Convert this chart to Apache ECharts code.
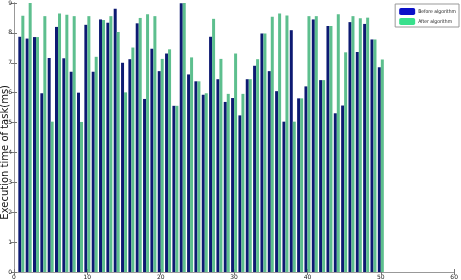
<!DOCTYPE html>
<html>
<head>
<meta charset="utf-8">
<script src="https://cdn.jsdelivr.net/npm/echarts@6/dist/echarts.min.js"></script>
<style>html,body{margin:0;padding:0;background:#fff;}#c{width:461px;height:280px;}</style>
</head>
<body>
<div id="c"></div>
<script>
var tasks = [1,2,3,4,5,6,7,8,9,10,11,12,13,14,15,16,17,18,19,20,21,22,23,24,25,26,27,28,29,30,31,32,33,34,35,36,37,38,39,40,41,42,43,44,45,46,47,48,49,50];
var before = [7.87,7.81,7.86,5.98,7.16,8.20,7.15,6.70,6.00,8.27,
              6.70,8.45,8.34,8.81,7.00,7.12,8.32,5.79,7.47,6.72,
              7.31,5.56,8.99,6.61,6.38,5.93,7.87,6.45,5.69,5.82,
              5.24,6.45,6.90,7.98,6.72,6.05,5.03,8.09,5.81,6.21,
              8.45,6.42,8.23,5.31,5.57,8.36,7.36,8.30,7.78,6.85];
var after = [8.57,9.00,7.86,8.56,5.03,8.65,8.61,8.56,5.02,8.56,
             7.20,8.43,8.56,8.03,6.01,7.51,8.50,8.62,8.56,7.13,
             7.45,5.56,9.00,7.18,6.38,5.98,8.47,7.13,5.96,7.31,
             5.96,6.45,7.12,7.98,8.54,8.65,8.58,5.03,5.81,8.56,
             8.56,6.42,8.23,8.62,7.35,8.56,8.49,8.51,7.78,7.11];
var xTicks = [0,10,20,30,40,50,60];
var yTicks = [0,1,2,3,4,5,6,7,8,9];

function pairs(vals){ return tasks.map(function(t,i){ return [t, vals[i]]; }); }

var chart = echarts.init(document.getElementById('c'), null, {renderer:'canvas'});
var lab = {fontSize:6, color:'#222', fontFamily:'DejaVu Sans'};
chart.setOption({
  animation:false,
  grid:{left:14, right:4, top:3, bottom:8, containLabel:false},
  legend:{
    orient:'vertical', right:2, top:4,
    backgroundColor:'#fff', borderColor:'#999', borderWidth:1,
    padding:[4,3,2,4], itemGap:3, itemWidth:16, itemHeight:7,
    textStyle:{fontSize:5, color:'#222', fontFamily:'Liberation Sans Narrow, DejaVu Sans Condensed, sans-serif', padding:[0,0,0,-2]},
    data:[{name:'Before algorithm', itemStyle:{color:'#0a10c8'}},
          {name:'After algorithm', itemStyle:{color:'#38e08c'}}]
  },
  xAxis:[{
    type:'value', min:0, max:60, interval:10,
    axisLine:{lineStyle:{color:'#777', width:1}},
    axisTick:{inside:true, length:3, lineStyle:{color:'#777'}},
    axisLabel:Object.assign({margin:2}, lab),
    splitLine:{show:false}
  },{
    type:'value', position:'top', min:0, max:60, interval:10,
    axisLine:{show:true, lineStyle:{color:'#999', width:1}},
    axisTick:{show:true, inside:true, length:3, lineStyle:{color:'#777'}},
    axisLabel:{show:false}, splitLine:{show:false}
  }],
  yAxis:[{
    type:'value', min:0, max:9, interval:1,
    axisLine:{show:true, lineStyle:{color:'#777', width:1}},
    axisTick:{show:true, inside:true, length:3, lineStyle:{color:'#777'}},
    axisLabel:Object.assign({margin:2}, lab),
    splitLine:{show:false}
  },{
    type:'value', position:'right', min:0, max:9, interval:1,
    axisLine:{show:true, lineStyle:{color:'#999', width:1}},
    axisTick:{show:true, inside:true, length:3, lineStyle:{color:'#777'}},
    axisLabel:{show:false}, splitLine:{show:false}
  }],
  graphic:[{
    type:'text', left:0, top:85, rotation:Math.PI/2,
    style:{text:'Execution time of task(ms)', fontSize:10, fill:'#111', fontFamily:'DejaVu Sans'}
  }],
  series:[{
    name:'Before algorithm', type:'bar', data:pairs(before),
    barWidth:3, barGap:'0%',
    itemStyle:{color:'#0d1a72'}
  },{
    name:'After algorithm', type:'bar', data:pairs(after),
    barWidth:3, barGap:'0%',
    itemStyle:{color:'#5dbf8e'}
  }]
});
</script>
</body>
</html>
